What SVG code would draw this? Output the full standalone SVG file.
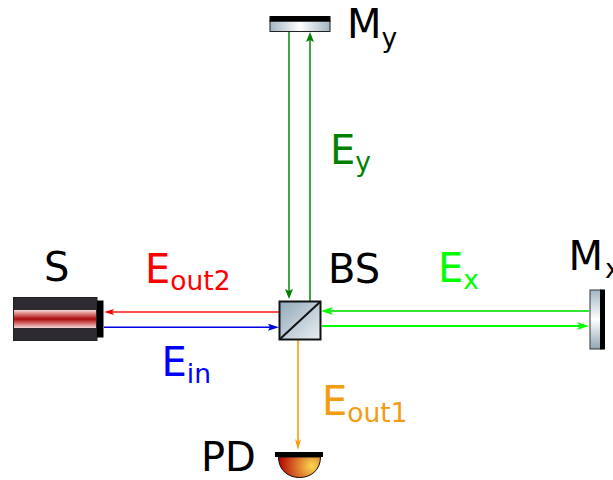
<svg xmlns="http://www.w3.org/2000/svg" width="613" height="480" viewBox="0 0 613 480">
<style>
text{font-family:"DejaVu Sans",sans-serif;font-size:40px}
.s{font-size:26.500px}
.l{fill:none;stroke-width:1.800}
</style>
<defs>
<linearGradient id="beam" x1="0" y1="0" x2="0" y2="1"><stop offset="0" stop-color="#f4dada"/><stop offset=".25" stop-color="#d87070"/><stop offset=".5" stop-color="#a80c0c"/><stop offset=".75" stop-color="#d87070"/><stop offset="1" stop-color="#f4dada"/></linearGradient>
<linearGradient id="my" x1="0" y1="0" x2="1" y2="0"><stop offset="0" stop-color="#a3b6c4"/><stop offset=".5" stop-color="#fff"/><stop offset="1" stop-color="#a3b6c4"/></linearGradient>
<linearGradient id="mx" x1="0" y1="0" x2="0" y2="1"><stop offset="0" stop-color="#a3b6c4"/><stop offset=".5" stop-color="#fff"/><stop offset="1" stop-color="#8fa5b5"/></linearGradient>
<linearGradient id="bs" x1="0" y1="0" x2="1" y2="1"><stop offset="0" stop-color="#93a9b9"/><stop offset="1" stop-color="#e9eef2"/></linearGradient>
<radialGradient id="pd" gradientUnits="userSpaceOnUse" cx="312" cy="466" r="32"><stop offset="0" stop-color="#fbd850"/><stop offset="1" stop-color="#b80c04"/></radialGradient>
</defs>
<g id="connectors" class="l">
<path d="M279 312H112" stroke="#ff5050"/><path d="M114 309L104 312L114 315L112 312Z" fill="#ff0000"/>
<path d="M104 327.300H272" stroke="#0000e6" stroke-width="1.400"/><path d="M268 323.800L279 327.300L268 330.800L270 327.300Z" fill="#0000e6"/>
<path d="M289 32V291" stroke="#339933"/><path d="M285 289L289 299L293 289L289 291Z" fill="#008000"/>
<path d="M310 301V40" stroke="#339933"/><path d="M306 42L310 32L314 42L310 40Z" fill="#008000"/>
<path d="M589 311H330" stroke="#33e633"/><path d="M333 307L321 311L333 315L330 311Z" fill="#00ff00"/>
<path d="M322 326H582" stroke="#00ff00"/><path d="M577 322L589 326L577 330L580 326Z" fill="#00ff00"/>
<path d="M298 340V444" stroke="#ffa620"/><path d="M295 439L298 450L301 439L298 442Z" fill="#ff9900"/>
</g>
<g id="source">
<rect x="13.500" y="297.500" width="83.500" height="43" fill="#2e2a32" stroke="#222"/>
<rect x="14" y="310" width="82" height="18" fill="url(#beam)"/>
<rect x="97" y="300.500" width="6.500" height="37" fill="#000"/>
<text x="44" y="281">S</text>
</g>
<g id="beamsplitter">
<rect x="279.500" y="301.500" width="41" height="38" fill="url(#bs)" stroke="#111" stroke-width="2"/>
<path d="M280 339L320 302" stroke="#111" stroke-width="2"/>
<text x="328" y="283">BS</text>
</g>
<g id="mirror-y">
<rect x="270" y="21" width="60" height="10.500" fill="url(#my)" stroke="#222"/>
<rect x="269.500" y="16" width="61" height="5.500" fill="#000"/>
<text x="347" y="38">M<tspan class="s" dy="9">y</tspan></text>
</g>
<g id="mirror-x">
<rect x="590" y="290" width="11" height="59" fill="url(#mx)" stroke="#333"/>
<rect x="600" y="289.500" width="5" height="60" fill="#000"/>
<text x="568.500" y="270">M<tspan class="s" dx="2" dy="8">x</tspan></text>
</g>
<g id="photodiode">
<path d="M278.500 457H320.500C320.500 470 311 477.500 299.500 477.500C288 477.500 278.500 470 278.500 457Z" fill="url(#pd)" stroke="#111"/>
<rect x="275" y="452" width="48" height="5" fill="#000"/>
<text x="201" y="471">PD</text>
</g>
<g id="labels">
<text x="145" y="283" fill="#ff0000">E<tspan class="s" dy="7">out2</tspan></text>
<text x="161.500" y="376" fill="#0000ff">E<tspan class="s" dy="7">in</tspan></text>
<text x="330" y="164" fill="#008000">E<tspan class="s" dy="7">y</tspan></text>
<text x="438" y="282" fill="#00ff00">E<tspan class="s" dy="7">x</tspan></text>
<text x="322" y="415" fill="#f39c12">E<tspan class="s" dy="7">out1</tspan></text>
</g>
</svg>
